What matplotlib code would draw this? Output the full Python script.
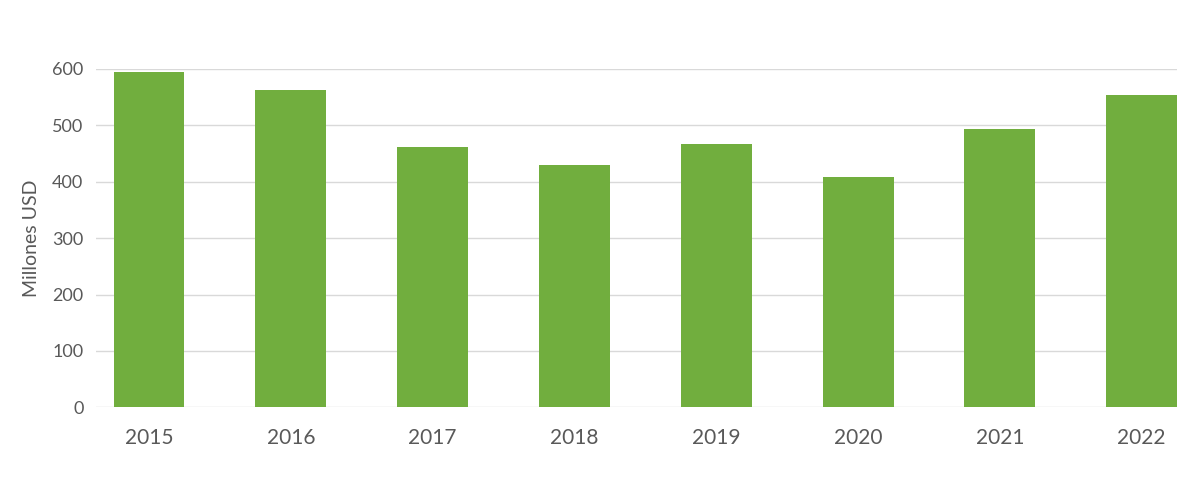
import matplotlib.pyplot as plt

years = ['2015', '2016', '2017', '2018', '2019', '2020', '2021', '2022']
values = [594, 563, 462, 430, 467, 408, 494, 554]
yticks = [0, 100, 200, 300, 400, 500, 600]

plt.rcParams['font.family'] = ['Lato', 'DejaVu Sans']

fig = plt.figure(figsize=(12, 5), dpi=100)
ax = fig.add_axes([0.08, 0.1854, 0.901, 0.6766])

x = list(range(len(years)))
ax.bar(x, values, width=0.5, color='#71AE3E', zorder=3)

ax.set_xlim(-0.374, 7.25)
ax.set_ylim(0, 600)
ax.set_yticks(yticks)
ax.set_xticks(x)
ax.set_xticklabels(years)
ax.grid(axis='y', color='#D9D9D9', linewidth=1, zorder=0)
ax.set_axisbelow(True)
for s in ax.spines.values():
    s.set_visible(False)
ax.tick_params(axis='both', length=0, colors='#595959')
ax.tick_params(axis='y', labelsize=13, pad=9)
ax.tick_params(axis='x', labelsize=15, pad=15)
ax.set_ylabel('Millones USD', fontsize=14, color='#595959', labelpad=9)

fig.savefig('out.png', dpi=100)
